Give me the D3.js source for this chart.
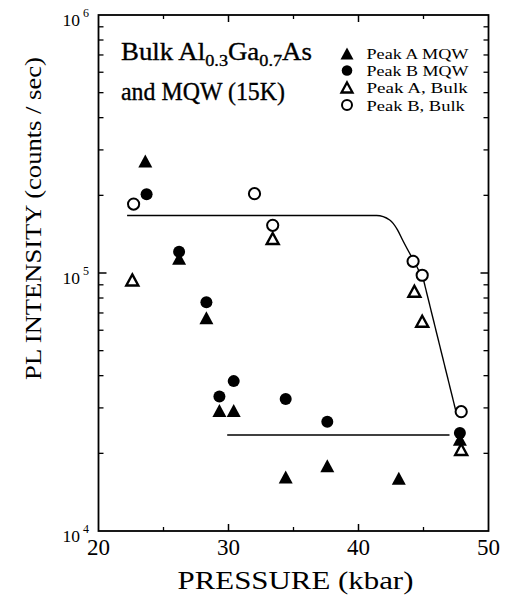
<!DOCTYPE html>
<html>
<head>
<meta charset="utf-8">
<script src="https://cdn.jsdelivr.net/npm/d3@7"></script>
<style>
  html, body { margin: 0; padding: 0; background: #fff; }
  svg { display: block; }
  text { font-family: "Liberation Serif", "Times New Roman", serif; fill: #000; }
</style>
</head>
<body>
<svg id="chart" width="505" height="609"></svg>
<script>
// ---- data ----------------------------------------------------------------
// Pressure (kbar) and PL intensity (counts / sec) for each peak
const peakA_MQW_P = [23.6, 26.2, 28.3, 29.3, 30.4, 34.4, 37.6, 43.1, 47.8];
const peakA_MQW_I = [2.72e5, 1.14e5, 6.7e4, 2.93e4, 2.93e4, 1.62e4, 1.79e4, 1.60e4, 2.27e4];

const peakB_MQW_P = [23.7, 26.2, 28.3, 29.3, 30.4, 34.4, 37.6, 47.8];
const peakB_MQW_I = [2.02e5, 1.21e5, 7.7e4, 3.32e4, 3.81e4, 3.25e4, 2.65e4, 2.40e4];

const peakA_Bulk_P = [22.6, 33.4, 44.3, 44.9, 47.9];
const peakA_Bulk_I = [9.4e4, 1.36e5, 8.5e4, 6.5e4, 2.07e4];

const peakB_Bulk_P = [22.7, 32.0, 33.4, 44.2, 44.9, 47.9];
const peakB_Bulk_I = [1.85e5, 2.03e5, 1.53e5, 1.11e5, 9.8e4, 2.9e4];

// guide-to-the-eye curves
const bulkFitCurveP = [22.2, 41.4, 42.4, 43.0, 43.4, 44.0, 44.5, 45.0];
const bulkFitCurveI = [1.67e5, 1.67e5, 1.605e5, 1.47e5, 1.34e5, 1.175e5, 1.055e5, 9.4e4];
const bulkFitDropP = [45.0, 47.5];
const bulkFitDropI = [9.4e4, 2.9e4];
const mqwFitP = [29.9, 47.0];
const mqwFitI = [2.355e4, 2.355e4];

// axes
const xMajorTicks = [20, 30, 40, 50];
const xMinorTicks = [25, 35, 45];
const yDecades = [4, 5, 6];

const legendLabels = ["Peak A MQW", "Peak B MQW", "Peak A, Bulk", "Peak B, Bulk"];

// ---- layout ----------------------------------------------------------------
const svg = d3.select("#chart");
const plotLeft = 98.5, plotRight = 488.5, plotTop = 15, plotBottom = 531;

const x = d3.scaleLinear().domain([20, 50]).range([plotLeft, plotRight]);
const y = d3.scaleLog().domain([1e4, 1e6]).range([plotBottom, plotTop]);

// stretch a text element horizontally (about anchor ax) to a target width
function fitWidth(sel, target, ax) {
  const w = sel.node().getBBox().width;
  const k = target / w;
  sel.attr("transform", `translate(${ax},0) scale(${k},1) translate(${-ax},0)`);
}

// ---- frame & ticks ---------------------------------------------------------
const g = svg.append("g");

const yMinor = [];
for (let d = 4; d < 6; d++) for (let m = 2; m <= 9; m++) yMinor.push(m * Math.pow(10, d));

// left / right ticks, pointing inward
yMinor.forEach(v => {
  g.append("line").attr("x1", plotLeft).attr("x2", plotLeft + 5).attr("y1", y(v)).attr("y2", y(v))
    .attr("stroke", "#000").attr("stroke-width", 1.3);
  g.append("line").attr("x1", plotRight).attr("x2", plotRight - 5).attr("y1", y(v)).attr("y2", y(v))
    .attr("stroke", "#000").attr("stroke-width", 1.3);
});
[1e5].forEach(v => {
  g.append("line").attr("x1", plotLeft).attr("x2", plotLeft + 8).attr("y1", y(v)).attr("y2", y(v))
    .attr("stroke", "#000").attr("stroke-width", 1.5);
  g.append("line").attr("x1", plotRight).attr("x2", plotRight - 8).attr("y1", y(v)).attr("y2", y(v))
    .attr("stroke", "#000").attr("stroke-width", 1.5);
});
// top / bottom ticks
xMinorTicks.forEach(v => {
  g.append("line").attr("x1", x(v)).attr("x2", x(v)).attr("y1", plotBottom).attr("y2", plotBottom - 4)
    .attr("stroke", "#000").attr("stroke-width", 1.3);
  g.append("line").attr("x1", x(v)).attr("x2", x(v)).attr("y1", plotTop).attr("y2", plotTop + 4)
    .attr("stroke", "#000").attr("stroke-width", 1.3);
});
xMajorTicks.slice(1, -1).forEach(v => {
  g.append("line").attr("x1", x(v)).attr("x2", x(v)).attr("y1", plotBottom).attr("y2", plotBottom - 7)
    .attr("stroke", "#000").attr("stroke-width", 1.5);
  g.append("line").attr("x1", x(v)).attr("x2", x(v)).attr("y1", plotTop).attr("y2", plotTop + 7)
    .attr("stroke", "#000").attr("stroke-width", 1.5);
});

g.append("rect").attr("x", plotLeft).attr("y", plotTop)
  .attr("width", plotRight - plotLeft).attr("height", plotBottom - plotTop)
  .attr("fill", "none").attr("stroke", "#000").attr("stroke-width", 1.8);

// tick labels
xMajorTicks.forEach(v => {
  g.append("text").attr("x", x(v)).attr("y", 555).attr("text-anchor", "middle")
    .attr("font-size", 23).text(v);
});
yDecades.forEach(e => {
  const yy = y(Math.pow(10, e));
  g.append("text").attr("x", 80).attr("y", yy + 11).attr("text-anchor", "end")
    .attr("font-size", 17.5).text("10");
  g.append("text").attr("x", 83).attr("y", yy + 2).attr("font-size", 12).text(e);
});

// axis titles
const xt = g.append("text").attr("x", 295.5).attr("y", 589).attr("text-anchor", "middle")
  .attr("font-size", 25.5).text("PRESSURE (kbar)");
fitWidth(xt, 236, 295.5);

const yt = g.append("g").attr("transform", "translate(41,218.5) rotate(-90)");
const ytText = yt.append("text").attr("x", 0).attr("y", 0).attr("text-anchor", "middle")
  .attr("font-size", 23.5).text("PL INTENSITY (counts / sec)");
fitWidth(ytText, 323, 0);

// ---- fit lines ---------------------------------------------------------------
const zip = (a, b) => a.map((v, i) => [v, b[i]]);
const straight = d3.line().x(d => x(d[0])).y(d => y(d[1]));
const smooth = d3.line().x(d => x(d[0])).y(d => y(d[1])).curve(d3.curveMonotoneX);

g.append("path").datum(zip(bulkFitCurveP, bulkFitCurveI)).attr("d", smooth)
  .attr("fill", "none").attr("stroke", "#000").attr("stroke-width", 1.4);
g.append("path").datum(zip(bulkFitDropP, bulkFitDropI)).attr("d", straight)
  .attr("fill", "none").attr("stroke", "#000").attr("stroke-width", 1.4);
g.append("path").datum(zip(mqwFitP, mqwFitI)).attr("d", straight)
  .attr("fill", "none").attr("stroke", "#000").attr("stroke-width", 1.4);

// ---- markers -----------------------------------------------------------------
function tri(w, h) {
  return `M0,${-h / 2}L${w / 2},${h / 2}L${-w / 2},${h / 2}Z`;
}
const markers = {
  filledTri: sel => sel.append("path").attr("d", tri(14, 13)).attr("fill", "#000"),
  filledCirc: sel => sel.append("circle").attr("r", 6).attr("fill", "#000"),
  openTri: sel => sel.append("path").attr("d", tri(12, 11)).attr("fill", "#fff")
    .attr("stroke", "#000").attr("stroke-width", 2.4).attr("stroke-linejoin", "miter"),
  openCirc: sel => sel.append("circle").attr("r", 5.6).attr("fill", "#fff")
    .attr("stroke", "#000").attr("stroke-width", 2)
};

function drawSeries(P, I, kind) {
  zip(P, I).forEach(d => {
    const m = g.append("g").attr("transform", `translate(${x(d[0])},${y(d[1])})`);
    markers[kind](m);
  });
}
drawSeries(peakB_Bulk_P, peakB_Bulk_I, "openCirc");
drawSeries(peakA_Bulk_P, peakA_Bulk_I, "openTri");
drawSeries(peakB_MQW_P, peakB_MQW_I, "filledCirc");
drawSeries(peakA_MQW_P, peakA_MQW_I, "filledTri");

// ---- legend ------------------------------------------------------------------
const t1 = g.append("text").attr("x", 121).attr("y", 60).attr("font-size", 25)
  .attr("stroke", "#000").attr("stroke-width", 0.35);
t1.append("tspan").text("Bulk Al");
t1.append("tspan").attr("font-size", 17).attr("dy", 6).text("0.3");
t1.append("tspan").attr("dy", -6).text("Ga");
t1.append("tspan").attr("font-size", 17).attr("dy", 6).text("0.7");
t1.append("tspan").attr("dy", -6).text("As");
fitWidth(t1, 191, 121);

const t2 = g.append("text").attr("x", 121).attr("y", 100).attr("font-size", 25)
  .attr("stroke", "#000").attr("stroke-width", 0.35).text("and MQW (15K)");
fitWidth(t2, 164, 121);

const legendKinds = ["filledTri", "filledCirc", "openTri", "openCirc"];
const legendBase = [59.5, 76.5, 93.5, 111];
const legendWidths = [103, 103, 102, 99];
legendKinds.forEach((k, i) => {
  const m = g.append("g").attr("transform", `translate(347,${legendBase[i] - 6})`);
  if (k === "filledTri") m.append("path").attr("d", tri(13, 12)).attr("fill", "#000");
  if (k === "filledCirc") m.append("circle").attr("r", 5.3).attr("fill", "#000");
  if (k === "openTri") m.append("path").attr("d", tri(11, 10)).attr("fill", "#fff")
    .attr("stroke", "#000").attr("stroke-width", 2.3);
  if (k === "openCirc") m.append("circle").attr("r", 5).attr("fill", "#fff")
    .attr("stroke", "#000").attr("stroke-width", 2);
  const lt = g.append("text").attr("x", 366.5).attr("y", legendBase[i]).attr("font-size", 15)
    .text(legendLabels[i]);
  fitWidth(lt, legendWidths[i], 366.5);
});
</script>
</body>
</html>
